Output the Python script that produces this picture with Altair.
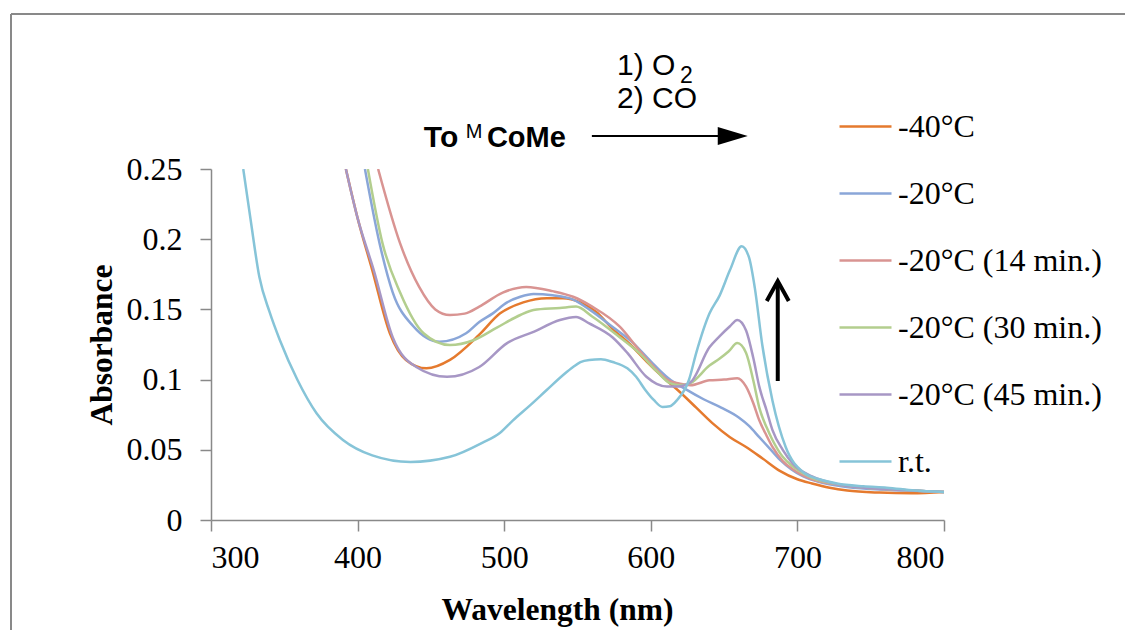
import altair as alt
import pandas as pd

# ---- spectra -------------------------------------------------------------
SERIES = ["-40°C", "-20°C", "-20°C (14 min.)", "-20°C (30 min.)", "-20°C (45 min.)", "r.t."]
COLORS = ["#E57A2E", "#8AA6D8", "#D99492", "#B3CE8E", "#A797C5", "#86C4D8"]

wl_m40 = [392, 400, 410, 422, 433, 447, 463, 483, 497, 513, 529, 540, 552, 563, 574,
          586, 597, 608, 620, 631, 642, 654, 665, 676, 688, 700, 710, 722, 734, 756, 778, 800]
abs_m40 = [0.25, 0.215, 0.178, 0.133, 0.114, 0.108, 0.114, 0.132, 0.147, 0.155, 0.158, 0.158,
           0.155, 0.148, 0.136, 0.125, 0.113, 0.102, 0.091, 0.080, 0.069, 0.059, 0.052, 0.044,
           0.035, 0.029, 0.026, 0.023, 0.021, 0.0195, 0.019, 0.020]

wl_m20 = [405, 415, 424, 438, 456, 474, 483, 492, 502, 511, 520, 533, 547, 558, 574, 588,
          600, 612, 624, 636, 648, 660, 667, 674, 681, 688, 696, 704, 715, 730, 750, 775, 800]
abs_m20 = [0.25, 0.197, 0.162, 0.138, 0.127, 0.133, 0.141, 0.147, 0.155, 0.159, 0.161, 0.160,
           0.157, 0.150, 0.1375, 0.126, 0.113, 0.101, 0.093, 0.086, 0.080, 0.073, 0.067, 0.059,
           0.051, 0.043, 0.036, 0.031, 0.027, 0.024, 0.022, 0.021, 0.020]

wl_14 = [414, 429, 442, 453, 463, 473, 483, 499, 515, 533, 547, 560, 579, 592, 604, 611,
         620, 627, 640, 650, 659, 665, 670, 674, 679, 683, 690, 697, 710, 730, 760, 800]
abs_14 = [0.25, 0.197, 0.166, 0.150, 0.146, 0.147, 0.152, 0.162, 0.166, 0.163, 0.159, 0.152,
          0.1375, 0.121, 0.107, 0.100, 0.097, 0.096, 0.0995, 0.100, 0.101, 0.095, 0.083, 0.071,
          0.060, 0.052, 0.042, 0.036, 0.029, 0.025, 0.022, 0.020]

wl_30 = [407, 417, 429, 445, 463, 479, 495, 511, 520, 538, 549, 560, 579, 592, 604, 613,
         620, 627, 640, 647, 653, 659, 665, 670, 674, 679, 683, 690, 697, 710, 730, 760, 800]
abs_30 = [0.25, 0.197, 0.162, 0.133, 0.1246, 0.128, 0.137, 0.146, 0.1496, 0.151, 0.152, 0.145,
          0.130, 0.119, 0.106, 0.0975, 0.096, 0.0975, 0.110, 0.115, 0.120, 0.126, 0.119, 0.099,
          0.080, 0.066, 0.057, 0.045, 0.038, 0.030, 0.025, 0.022, 0.020]

wl_45 = [392, 400, 411, 424, 440, 461, 483, 502, 520, 538, 549, 558, 574, 584, 597, 604,
         611, 618, 627, 640, 647, 654, 659, 665, 670, 674, 679, 683, 690, 697, 710, 730, 760, 800]
abs_45 = [0.25, 0.215, 0.178, 0.130, 0.109, 0.102, 0.109, 0.126, 0.134, 0.1425, 0.1446, 0.140,
          0.130, 0.119, 0.102, 0.097, 0.095, 0.095, 0.098, 0.123, 0.131, 0.138, 0.1425, 0.135,
          0.115, 0.095, 0.078, 0.064, 0.050, 0.040, 0.031, 0.025, 0.022, 0.020]

wl_rt = [322, 327, 333, 340, 347, 359, 372, 390, 410, 436, 463, 485, 497, 506, 518, 529,
         541, 547, 552, 558, 566, 574, 584, 590, 596, 602, 608, 613, 618, 626, 631, 640,
         647, 654, 662, 667, 671, 676, 683, 692, 704, 715, 727, 745, 761, 780, 800]
abs_rt = [0.25, 0.214, 0.173, 0.148, 0.128, 0.0997, 0.076, 0.057, 0.046, 0.0413, 0.045, 0.055,
          0.062, 0.071, 0.082, 0.0926, 0.104, 0.109, 0.1125, 0.114, 0.1145, 0.1125, 0.108,
          0.102, 0.093, 0.0855, 0.0805, 0.081, 0.0855, 0.0997, 0.119, 0.147, 0.160, 0.178,
          0.195, 0.187, 0.165, 0.125, 0.085, 0.052, 0.034, 0.029, 0.026, 0.024, 0.023, 0.021,
          0.020]

X_TICKS = [300, 400, 500, 600, 700, 800]
Y_TICKS = [0, 0.05, 0.1, 0.15, 0.2, 0.25]

series_data = [
    (SERIES[0], wl_m40, abs_m40),
    (SERIES[1], wl_m20, abs_m20),
    (SERIES[2], wl_14, abs_14),
    (SERIES[3], wl_30, abs_30),
    (SERIES[4], wl_45, abs_45),
    (SERIES[5], wl_rt, abs_rt),
]
frames = [pd.DataFrame({"series": name, "order": i, "wl": w, "A": a})
          for i, (name, w, a) in enumerate(series_data)]
df = pd.concat(frames, ignore_index=True)

SERIF = "Liberation Serif"
SANS = "Liberation Sans"
GRAY = "#898989"

x_scale = alt.Scale(domain=[300, 800], nice=False, zero=False)
y_scale = alt.Scale(domain=[0, 0.25], nice=False)

lines = alt.Chart(df).mark_line(clip=True, strokeWidth=2.5, interpolate="monotone").encode(
    x=alt.X("wl:Q", scale=x_scale,
            axis=alt.Axis(values=X_TICKS, format="d", title="Wavelength (nm)",
                          titleX=346, titleY=99, titleAlign="center",
                          titleBaseline="alphabetic", labelPadding=11)),
    y=alt.Y("A:Q", scale=y_scale,
            axis=alt.Axis(values=Y_TICKS, format="~g", title="Absorbance",
                          titleAngle=270, titleX=-100, titleY=175.5, titleAlign="center",
                          titleBaseline="alphabetic", labelPadding=18)),
    color=alt.Color("series:N", scale=alt.Scale(domain=SERIES, range=COLORS),
                    legend=alt.Legend(title=None, orient="none", legendX=627, legendY=-70,
                                      symbolType="stroke", symbolSize=2704,
                                      symbolStrokeWidth=2.5, rowPadding=23,
                                      labelOffset=5, labelFont=SERIF, labelFontSize=32,
                                      labelColor="black", padding=0, labelLimit=400)),
    detail="order:O",
)

one = alt.Data(values=[{}])

# outer frame
frame_v = alt.Chart(one).mark_rule(color=GRAY, strokeWidth=2).encode(
    x=alt.value(-200), y=alt.value(-155), y2=alt.value(470))
frame_h = alt.Chart(one).mark_rule(color=GRAY, strokeWidth=2).encode(
    x=alt.value(-200), x2=alt.value(930), y=alt.value(-155))


# reaction scheme
def label(text, x, y, size, weight="normal", line_height=None):
    kw = {}
    if line_height is not None:
        kw["lineHeight"] = line_height
    return alt.Chart(one).mark_text(
        text=text, font=SANS, fontSize=size, fontWeight=weight, align="left",
        baseline="alphabetic", color="black", **kw).encode(x=alt.datum(x), y=alt.datum(y))


reagents = label(["1) O", "2) CO"], 577.0, 0.3170, 30, line_height=33)
reagent_sub = label("2", 620.0, 0.3115, 23)
s1 = label("To", 445.2, 0.2657, 30, "bold")
s_sup = label("M", 473.8, 0.2721, 20)
s2 = label("CoMe", 488.2, 0.2657, 29, "bold")

rxn_line = alt.Chart(one).mark_rule(color="black", strokeWidth=2).encode(
    x=alt.datum(559.8), x2=alt.datum(648.0), y=alt.datum(0.2735))
rxn_head = alt.Chart(one).mark_point(
    shape="M -1 -0.6 L 1 0 L -1 0.6 Z", filled=True, size=900, color="black", opacity=1
).encode(x=alt.datum(655.9), y=alt.datum(0.2735))

# growth arrow
up_shaft = alt.Chart(one).mark_rule(color="black", strokeWidth=4).encode(
    x=alt.datum(686.6), y=alt.datum(0.099), y2=alt.datum(0.1685))
up_head = alt.Chart(one).mark_point(
    shape="M -0.55 1 L 0 0 L 0.55 1", filled=False, size=1600, color="black",
    strokeWidth=4, opacity=1
).encode(x=alt.datum(686.6), y=alt.datum(0.1702))

chart = alt.layer(
    frame_v, frame_h, lines, reagents, reagent_sub, s1, s_sup, s2,
    rxn_line, rxn_head, up_shaft, up_head
).properties(
    width=733, height=351,
    autosize=alt.AutoSizeParams(type="none"),
    padding={"left": 211, "top": 169, "right": 181, "bottom": 110},
    background="white",
).configure_view(stroke=None).configure_axis(
    grid=False, domainColor=GRAY, domainWidth=1.5, tickColor=GRAY, tickWidth=1.5,
    tickSize=11, labelFont=SERIF, labelFontSize=32, labelColor="black",
    titleFont=SERIF, titleFontSize=31.5, titleFontWeight="bold", titleColor="black",
)

chart.save("out.html", embed_options={"renderer": "svg", "actions": False})
